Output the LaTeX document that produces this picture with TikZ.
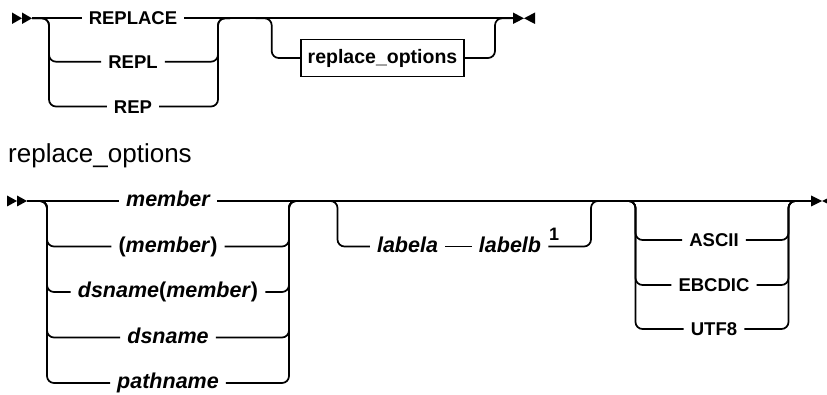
\documentclass[tikz,border=0pt]{standalone}
\usepackage{fontspec}
\setmainfont{Liberation Sans}
\tikzset{
  track/.style={line width=1.7pt, rounded corners=7pt},
  kw/.style={font=\bfseries\fontsize{18.5}{20}\selectfont, text height=13.2pt, text depth=0pt, inner xsep=7pt, inner ysep=0pt},
  var/.style={font=\bfseries\itshape\fontsize{21.5}{24}\selectfont, text height=11.2pt, text depth=0pt, inner xsep=7pt, inner ysep=0pt},
  optbox/.style={draw, line width=1.2pt, font=\bfseries\fontsize{19.5}{21}\selectfont, minimum width=163pt, minimum height=37pt, inner sep=0pt},
  note/.style={font=\bfseries\fontsize{18}{20}\selectfont, inner sep=0pt},
}
\begin{document}
\begin{tikzpicture}[x=1pt, y=-1pt]
\useasboundingbox (0,0) rectangle (827,395);
% REPLACE statement
\coordinate (s1) at (32,18.3);
\coordinate (e1) at (513,18.3);
\coordinate (l1) at (49,18.3);
\coordinate (r1) at (218,18.3);
\coordinate (l1b) at (271.7,18.3);
\coordinate (r1b) at (495,18.3);
\node[kw] (replace) at (133,18.3) {REPLACE};
\node[kw] (repl) at (133,61.7) {REPL};
\node[kw] (rep) at (133,106.5) {REP};
\node[optbox] (opts) at (382.5,58) {replace\_options};
\draw[track] (s1) -- (replace.west) (replace.east) -- (e1);
\draw[track] (s1) -- (l1) |- (repl.west);
\draw[track] (s1) -- (l1) |- (rep.west);
\draw[track] (repl.east) -| (r1) -- ++(12,0);
\draw[track] (rep.east) -| (r1) -- ++(12,0);
\draw[track] ([xshift=-16pt]l1b) -- (l1b) |- (opts.west);
\draw[track] (opts.east) -| (r1b) -- (e1);
\fill (12,12.5) -- (22,18.3) -- (12,24) -- cycle;
\fill (22,12.5) -- (32,18.3) -- (22,24) -- cycle;
\fill (513,12.5) -- (524,18.3) -- (513,24) -- cycle;
\fill (535,12.5) -- (524,18.3) -- (535,24) -- cycle;
% replace_options fragment
\node[anchor=base west, inner sep=0pt, font=\fontsize{26}{30}\selectfont] (title) at (8,162.5) {replace\_options};
\coordinate (s2) at (27,201);
\coordinate (e2) at (811,201);
\coordinate (l2) at (47,201);
\coordinate (r2) at (289,201);
\coordinate (l3) at (337.5,201);
\coordinate (r3) at (591,201);
\coordinate (l4) at (635.5,201);
\coordinate (r4) at (788.5,201);
\node[var] (member) at (168,201) {member};
\node[var] (pmember) at (168,246.5) {\textup{(}member\textup{)}};
\node[var] (dsmember) at (168,292) {dsname\textup{(}member\textup{)}};
\node[var] (dsname) at (168,337.5) {dsname};
\node[var] (pathname) at (168,383) {pathname};
\node[var] (labela) at (407.5,246.5) {labela};
\node[var] (labelb) at (510,246.5) {labelb};
\node[note] (fn) at (554,234.5) {1};
\node[kw] (ascii) at (714,240) {ASCII};
\node[kw] (ebcdic) at (714,285) {EBCDIC};
\node[kw] (utf) at (714,329) {UTF8};
\draw[track] (s2) -- (member.west) (member.east) -- (e2);
\draw[track] (s2) -- (l2) |- (pmember.west);
\draw[track] (s2) -- (l2) |- (dsmember.west);
\draw[track] (s2) -- (l2) |- (dsname.west);
\draw[track] (s2) -- (l2) |- (pathname.west);
\draw[track] (pmember.east) -| (r2) -- ++(12,0);
\draw[track] (dsmember.east) -| (r2) -- ++(12,0);
\draw[track] (dsname.east) -| (r2) -- ++(12,0);
\draw[track] (pathname.east) -| (r2) -- ++(12,0);
\draw[track] ([xshift=-12pt]l3) -- (l3) |- (labela.west);
\draw[track] (labela.east) -- (labelb.west);
\draw[track] (labelb.east) -| (r3) -- ++(12,0);
\draw[track] ([xshift=-12pt]l4) -- (l4) |- (ascii.west);
\draw[track] ([xshift=-12pt]l4) -- (l4) |- (ebcdic.west);
\draw[track] ([xshift=-12pt]l4) -- (l4) |- (utf.west);
\draw[track] (ascii.east) -| (r4) -- ++(12,0);
\draw[track] (ebcdic.east) -| (r4) -- ++(12,0);
\draw[track] (utf.east) -| (r4) -- ++(12,0);
\fill (7,195.5) -- (17,201) -- (7,206.5) -- cycle;
\fill (17,195.5) -- (27,201) -- (17,206.5) -- cycle;
\fill (811,195.5) -- (822,201) -- (811,206.5) -- cycle;
\fill (833,195.5) -- (822,201) -- (833,206.5) -- cycle;
\end{tikzpicture}
\end{document}
